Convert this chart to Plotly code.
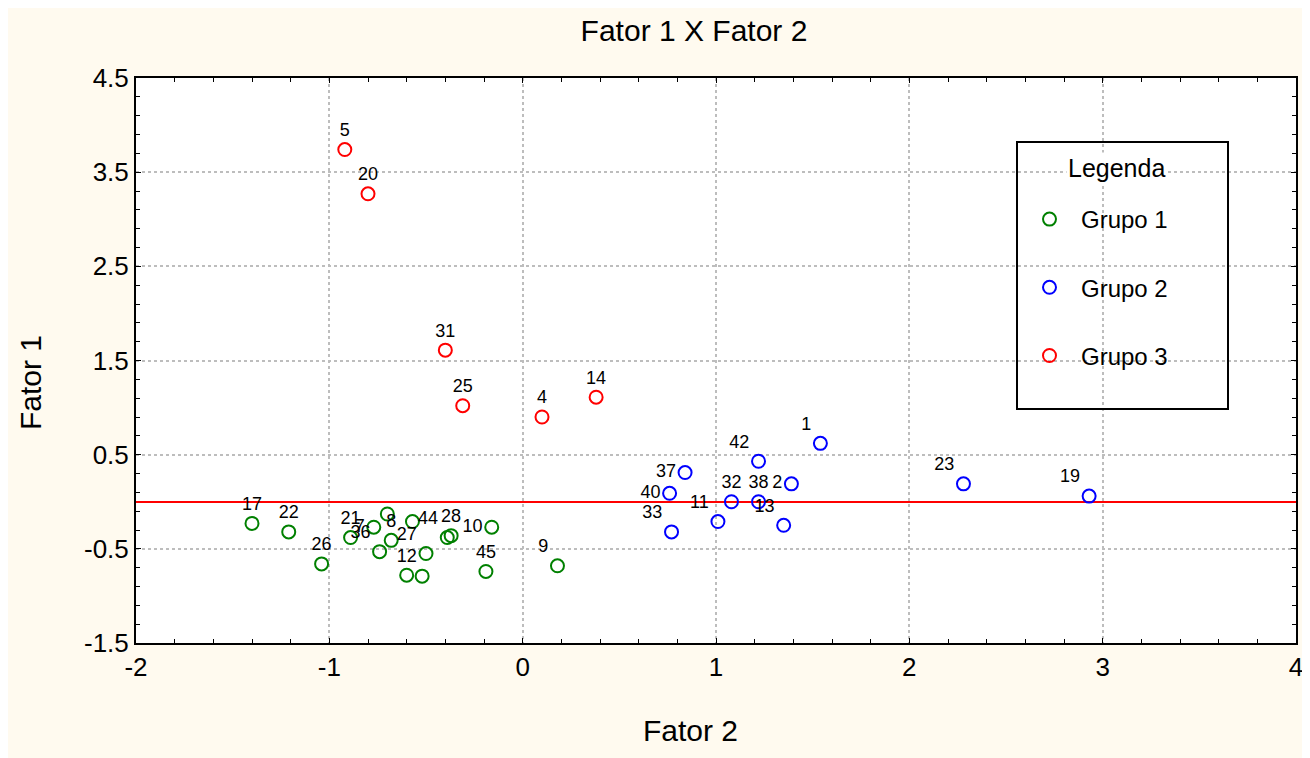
import plotly.graph_objects as go

# ---------------- data ----------------
g1_labels = ["17", "22", "26", "21", "7", "", "36", "8", "", "27", "12", "", "44", "28", "10", "45", "9"]
g1_x = [-1.40, -1.21, -1.04, -0.89, -0.77, -0.70, -0.74, -0.68, -0.57, -0.50, -0.60, -0.52, -0.39, -0.37, -0.16, -0.19, 0.18]
g1_y = [-0.23, -0.32, -0.66, -0.38, -0.27, -0.13, -0.53, -0.41, -0.21, -0.55, -0.78, -0.79, -0.38, -0.36, -0.27, -0.74, -0.68]
g1_pos = ["top center", "top center", "top center", "top center", "middle left", "top center",
          "top left", "top center", "top center", "top left", "top center", "top center",
          "top left", "top center", "middle left", "top center", "top left"]

g2_labels = ["1", "42", "37", "40", "2", "32", "38", "11", "13", "33", "23", "19"]
g2_x = [1.54, 1.22, 0.84, 0.76, 1.39, 1.08, 1.22, 1.01, 1.35, 0.77, 2.28, 2.93]
g2_y = [0.62, 0.43, 0.31, 0.09, 0.19, 0.00, 0.00, -0.21, -0.25, -0.32, 0.19, 0.06]
g2_pos = ["top left", "top left", "middle left", "middle left", "middle left", "top center",
          "top center", "top left", "top left", "top left", "top left", "top left"]

g3_labels = ["5", "20", "31", "25", "4", "14"]
g3_x = [-0.92, -0.80, -0.40, -0.31, 0.10, 0.38]
g3_y = [3.74, 3.27, 1.61, 1.02, 0.90, 1.11]
g3_pos = ["top center"] * 6

x_tickvals = [-2, -1, 0, 1, 2, 3, 4]
x_ticktext = ["-2", "-1", "0", "1", "2", "3", "4"]
y_tickvals = [-1.5, -0.5, 0.5, 1.5, 2.5, 3.5, 4.5]
y_ticktext = ["-1.5", "-0.5", "0.5", "1.5", "2.5", "3.5", "4.5"]

groups = [
    ("Grupo 1", g1_x, g1_y, g1_labels, g1_pos, "#008000"),
    ("Grupo 2", g2_x, g2_y, g2_labels, g2_pos, "#0000FF"),
    ("Grupo 3", g3_x, g3_y, g3_labels, g3_pos, "#FF0000"),
]

FONT = "Liberation Sans, Arial, sans-serif"

fig = go.Figure()
for name, xs, ys, labs, pos, col in groups:
    fig.add_trace(go.Scatter(
        x=xs, y=ys, text=labs, name=name, legendgroup=name,
        mode="markers+text", textposition=pos,
        textfont=dict(family=FONT, size=18, color="black"),
        marker=dict(symbol="circle-open", size=13, color=col, line=dict(width=2, color=col)),
        cliponaxis=False,
    ))

W, H = 1310, 758
L, R, T, B = 128, 22, 70, 123
pw, ph = W - L - R, H - T - B

def px2paper(px, py):
    return (px - L) / pw, (H - B - py) / ph

bx0, by1 = px2paper(1009, 134)
bx1, by0 = px2paper(1220, 401)
lx, ly = px2paper(1010, 189)
tx, ty = px2paper(1108, 160)
xt_x, xt_y = px2paper(682, 722)
yt_x, yt_y = px2paper(22, 375)

axis_common = dict(
    showline=True, linecolor="black", linewidth=2, mirror="ticks",
    ticks="inside", ticklen=5, tickwidth=1, tickcolor="black",
    showgrid=True, gridcolor="#BDBDBD", gridwidth=2, griddash="dot",
    tickfont=dict(family=FONT, size=26, color="black"),
    tickmode="array",
)

fig.update_layout(
    width=W, height=H,
    margin=dict(l=L, r=R, t=T, b=B),
    paper_bgcolor="#FFFAEF", plot_bgcolor="white",
    title=dict(text="Fator 1 X Fator 2", x=686 / W, xanchor="center", y=1 - 22 / H, yanchor="middle",
               font=dict(family=FONT, size=30, color="black")),
    xaxis=dict(range=[-2, 4], tickvals=x_tickvals, ticktext=x_ticktext, zeroline=False,
               minor=dict(dtick=0.2, tick0=0, ticks="inside", ticklen=4, tickcolor="black", showgrid=False),
               **axis_common),
    yaxis=dict(range=[-1.5, 4.5], tickvals=y_tickvals, ticktext=y_ticktext,
               zeroline=True, zerolinecolor="#FF0000", zerolinewidth=2,
               minor=dict(dtick=0.2, tick0=0.5, ticks="inside", ticklen=4, tickcolor="black", showgrid=False),
               **axis_common),
    showlegend=True,
    legend=dict(
        x=lx, y=ly, xanchor="left", yanchor="top",
        bgcolor="rgba(0,0,0,0)", borderwidth=0,
        font=dict(family=FONT, size=24, color="black"),
        tracegroupgap=34, itemwidth=53,
    ),
    shapes=[dict(type="rect", xref="paper", yref="paper", x0=bx0, x1=bx1, y0=by0, y1=by1,
                 line=dict(color="black", width=2), fillcolor="rgba(0,0,0,0)", layer="above")],
    annotations=[
        dict(text="Legenda", xref="paper", yref="paper", x=tx, y=ty, xanchor="center",
             yanchor="middle", showarrow=False, bgcolor="white",
             font=dict(family=FONT, size=25, color="black")),
        dict(text="Fator 2", xref="paper", yref="paper", x=xt_x, y=xt_y, xanchor="center",
             yanchor="middle", showarrow=False, font=dict(family=FONT, size=30, color="black")),
        dict(text="Fator 1", xref="paper", yref="paper", x=yt_x, y=yt_y, xanchor="center",
             yanchor="middle", showarrow=False, textangle=-90,
             font=dict(family=FONT, size=30, color="black")),
    ],
)

fig.write_html("out.html")
